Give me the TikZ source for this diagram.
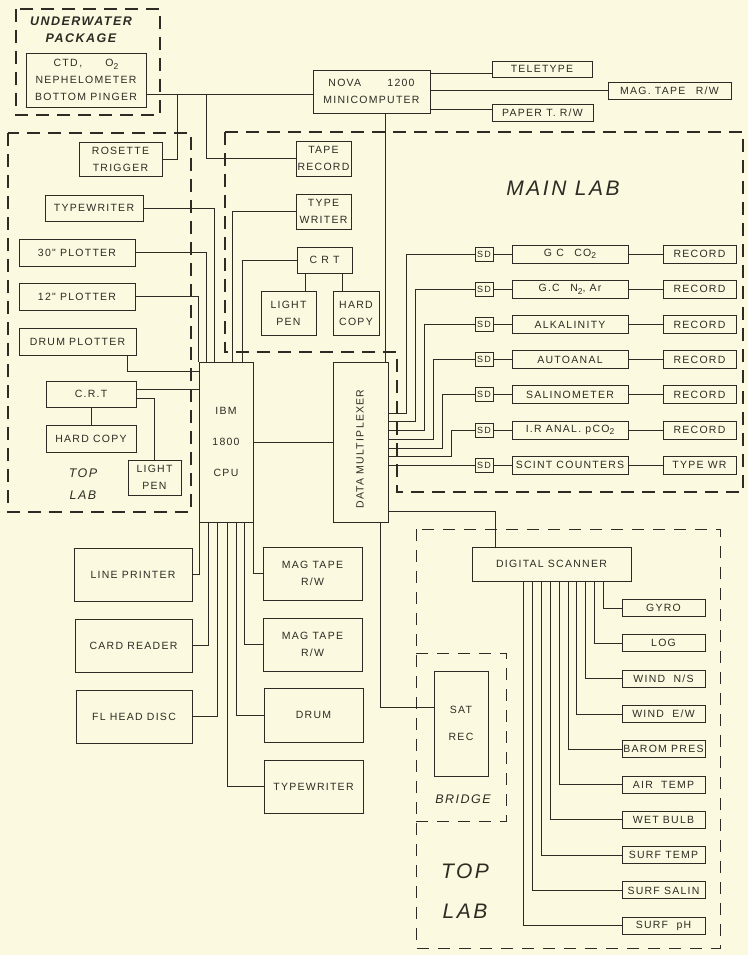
\documentclass[tikz,border=0pt]{standalone}
\usepackage{fontspec}
\setmainfont{Liberation Sans}
\newfontfamily\stencil[LetterSpace=12]{Liberation Sans}
\usetikzlibrary{positioning}
\definecolor{paper}{RGB}{251,250,224}
\definecolor{ink}{RGB}{45,43,35}
\newcommand\lowx[1]{\raisebox{-.45ex}{\fontsize{8.5}{8.5}\selectfont #1}}

\begin{document}
\begin{tikzpicture}[
		x=1pt, y=-1pt,
		thick,
		wh/.style 2 args={minimum width=#1pt, minimum height=#2pt},
		box/.style={rectangle, draw=ink, line width=0.9pt, inner sep=0pt, align=center, text=ink, font=\stencil\fontsize{10.5}{17}\selectfont},
		wire/.style={draw=ink, line width=0.75pt},
		room/.style={draw=ink, line width=1.4pt, dash pattern=on 13pt off 8pt},
		thinroom/.style={draw=ink, line width=0.6pt, dash pattern=on 12pt off 9pt},
		area/.style={text=ink, align=center, font=\stencil\itshape\fontsize{12.5}{22}\selectfont},
		bigarea/.style={text=ink, align=center, font=\stencil\itshape\fontsize{21}{40}\selectfont}
	]
	\useasboundingbox (0,0) rectangle (748,955);
	\fill[paper] (0,0) rectangle (748,955);

	% rooms
	\draw[room] (16,9) rectangle (160,115);
	\draw[room] (8,133) rectangle (191,512);
	\draw[room] (225,132) -- (743,132) -- (743,492) -- (397,492) -- (397,352) -- (225,352) -- cycle;
	\draw[thinroom] (416,529) rectangle (720,948);
	\draw[thinroom] (416,653) -| (506,821) -- (416,821);

	\node[area] (uwlabel) at (81,30) {\bfseries UNDERWATER\\[-5pt]\bfseries PACKAGE};
	\node[area] (toplabel) at (83,484) {TOP\\LAB};
	\node[bigarea] (mainlabel) at (563,188) {MAIN LAB};
	\node[area] (bridgelabel) at (463,799) {BRIDGE};
	\node[bigarea] (toplabel2) at (465,891) {TOP\\LAB};

	% computers
	\node[box, wh={120}{54}] (ctd) at (86,80) {CTD\,,\hspace{2.2em}O\lowx{2}\\NEPHELOMETER\\BOTTOM PINGER};
	\node[box, wh={117}{43}] (nova) at (371.5,91.5) {NOVA\hspace{2.5em}1200\\MINICOMPUTER};
	\node[box, wh={100}{16}] (tele) at (542,69) {TELETYPE};
	\node[box, wh={123}{17}] (mtw) at (669.5,90.5) {MAG. TAPE\quad R/W};
	\node[box, wh={101}{17}] (paper) at (542.5,112.5) {PAPER T. R/W};
	\node[box, wh={54}{160}] (cpu) at (226,442) {IBM\\[14pt]1800\\[14pt]CPU};
	\node[box, wh={55}{160}] (mux) at (360.5,442) {};
	\node[rotate=90, text=ink, font=\stencil\fontsize{10.5}{12}\selectfont] (muxlabel) at (360,449) {DATA MULTIPLEXER};

	% top lab
	\node[box, wh={83}{34}] (rosette) at (120.5,159) {ROSETTE\\TRIGGER};
	\node[box, wh={98}{26}] (typeTL) at (94,208) {TYPEWRITER};
	\node[box, wh={116}{27}] (plot30) at (77,252.5) {30" PLOTTER};
	\node[box, wh={116}{27}] (plot12) at (77,296.5) {12" PLOTTER};
	\node[box, wh={117}{27}] (drumplot) at (77.5,341.5) {DRUM PLOTTER};
	\node[box, wh={90}{26}] (crtTL) at (91,394) {C.R.T};
	\node[box, wh={90}{27}] (hardTL) at (91,438.5) {HARD COPY};
	\node[box, wh={53}{35}] (penTL) at (154.5,477.5) {LIGHT\\PEN};

	% main lab, left part
	\node[box, wh={55}{35}] (taperec) at (323.5,158.5) {TAPE\\RECORD};
	\node[box, wh={55}{35}] (typeML) at (323.5,211.5) {TYPE\\WRITER};
	\node[box, wh={55}{26}] (crtML) at (324.5,260) {C R T};
	\node[box, wh={55}{44}] (penML) at (288.5,313) {LIGHT\\PEN};
	\node[box, wh={46}{44}] (hardML) at (356,313) {HARD\\COPY};

	% main lab, analysers
	\foreach \anal/\rec [count=\i from 0] in {G C\quad CO\lowx{2}/RECORD, G.C\quad N\lowx{2}{,} Ar/RECORD, ALKALINITY/RECORD, AUTOANAL/RECORD, SALINOMETER/RECORD, I.R ANAL. pCO\lowx{2}/RECORD, SCINT COUNTERS/TYPE WR}{
		\node[box, wh={18}{14}, font=\stencil\fontsize{9}{10}\selectfont] (so\i) at (484,{254+35.2*\i}) {SD};
		\node[box, wh={116}{18}] (an\i) at (570,{254+35.2*\i}) {\anal};
		\node[box, wh={73}{18}] (rec\i) at (699.5,{254+35.2*\i}) {\rec};
		\draw[wire] (so\i) -- (an\i) -- (rec\i);
	}

	% under the cpu
	\node[box, wh={118}{53}] (lp) at (133,574.5) {LINE PRINTER};
	\node[box, wh={117}{53}] (card) at (133.5,645.5) {CARD READER};
	\node[box, wh={116}{53}] (disc) at (134,716.5) {FL HEAD DISC};
	\node[box, wh={99}{53}] (mt1) at (312.5,573.5) {MAG TAPE\\R/W};
	\node[box, wh={99}{53}] (mt2) at (312.5,644.5) {MAG TAPE\\R/W};
	\node[box, wh={99}{54}] (drum) at (313.5,715) {DRUM};
	\node[box, wh={99}{53}] (typeB) at (313.5,786.5) {TYPEWRITER};

	% bridge and top lab
	\node[box, wh={159}{34}] (scan) at (551.5,564) {DIGITAL SCANNER};
	\node[box, wh={54}{105}] (sat) at (461,723.5) {SAT\\[10pt]REC};
	\foreach \txt [count=\i from 0] in {GYRO, LOG, WIND\ \ N/S, WIND\ \ E/W, BAROM PRES, AIR\ \ TEMP, WET BULB, SURF TEMP, SURF SALIN, SURF\ \ pH}{
		\pgfmathsetmacro\xo{132-8.9*\i}
		\node[box, wh={83}{17}] (out\i) at (663.5,{608+35.3*\i}) {\txt};
		\draw[wire] (out\i.west) -| ([xshift=\xo pt]scan.south west);
	}

	% connectors
	\coordinate (rj) at (177,94);
	\coordinate (tj) at (206,94);
	\draw[wire] ([yshift=-14pt]ctd.east) -- ([yshift=-14pt]ctd.east -| nova.west);
	\draw[wire] (rosette.east) -| (rj);
	\draw[wire] (taperec.west) -| (tj);
	\draw[wire] ([yshift=-4pt]tele.west) -- ([yshift=-4pt]tele.west -| nova.east);
	\draw[wire] (mtw.west) -- (mtw.west -| nova.east);
	\draw[wire] ([yshift=3pt]paper.west) -- ([yshift=3pt]paper.west -| nova.east);
	\draw[wire] ([xshift=-3pt]mux.north east) -- ([xshift=-3pt]mux.north east |- nova.south);

	\draw[wire] (plot12.east) -| (cpu.north west);
	\draw[wire] (plot30.east) -| ([xshift=8pt]cpu.north west);
	\draw[wire] (typeTL.east) -| ([xshift=16pt]cpu.north west);
	\draw[wire] (typeML.west) -| ([xshift=34pt]cpu.north west);
	\draw[wire] (crtML.west) -| ([xshift=44pt]cpu.north west);
	\draw[wire] ([xshift=-9pt]drumplot.south east) |- ([yshift=-10pt]cpu.north west);
	\draw[wire] ([yshift=5pt]crtTL.east) -- ([yshift=5pt]crtTL.east -| cpu.west);
	\draw[wire] ([yshift=-4pt]crtTL.east) -| (penTL.north);
	\draw[wire] (crtTL) -- (hardTL);
	\draw[wire] ([xshift=9pt]crtML.south west) -- ([xshift=9pt]crtML.south west |- penML.north);
	\draw[wire] ([xshift=-10pt]crtML.south east) -- ([xshift=-10pt]crtML.south east |- hardML.north);
	\draw[wire] (cpu) -- (mux);

	\draw[wire] (lp.east) -| ([xshift=1pt]cpu.south west);
	\draw[wire] (card.east) -| ([xshift=10pt]cpu.south west);
	\draw[wire] (disc.east) -| ([xshift=19pt]cpu.south west);
	\draw[wire] (typeB.west) -| ([xshift=29pt]cpu.south west);
	\draw[wire] (drum.west) -| ([xshift=38pt]cpu.south west);
	\draw[wire] (mt2.west) -| ([xshift=46pt]cpu.south west);
	\draw[wire] (mt1.west) -| (cpu.south east);

	\foreach \i in {0,...,5}{
		\pgfmathsetmacro\cx{406+9.1*\i}
		\pgfmathsetmacro\ey{413+8.75*\i}
		\draw[wire] (so\i.west) -| (\cx,\ey) coordinate (t) -- (t -| mux.east);
	}
	\draw[wire] (so6.west) -- (so6.west -| mux.east);
	\draw[wire] ([yshift=-69pt]mux.east) -| ([xshift=24pt]scan.north west);
	\draw[wire] ([xshift=-8pt]mux.south east) |- ([yshift=16pt]sat.west);
\end{tikzpicture}
\end{document}
